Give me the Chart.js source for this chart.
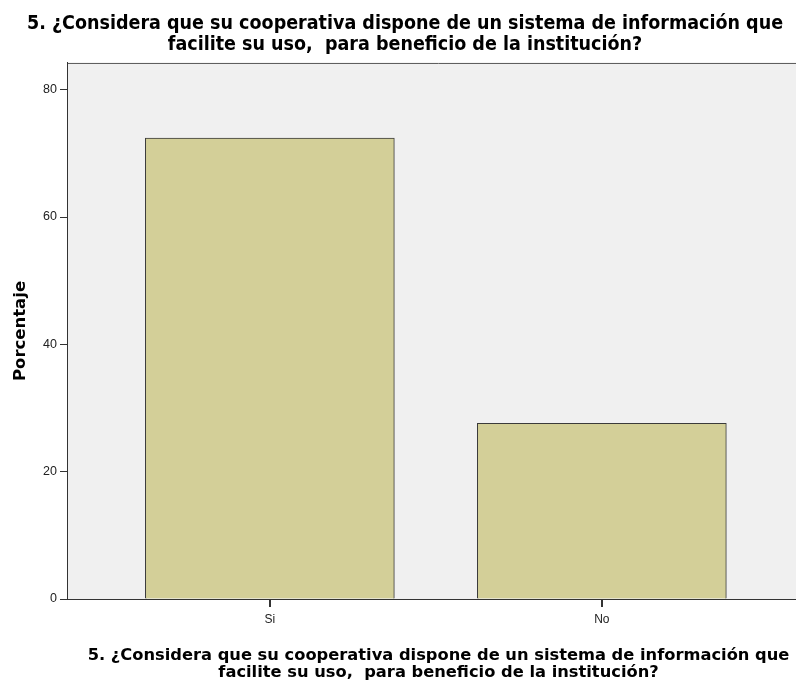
<!DOCTYPE html>
<html>
<head>
<meta charset="utf-8">
<script src="https://cdn.jsdelivr.net/npm/chart.js@4.4.1/dist/chart.umd.min.js"></script>
<style>
    html, body { margin: 0; padding: 0; background: #fff; overflow: hidden; }
    #wrap { width: 810px; height: 683px; }
</style>
</head>
<body>
<div id="wrap"><canvas id="grafico"></canvas></div>
<script>
const categorias = ["Si", "No"];
const porcentaje = [72.4, 27.6];
const ticksY = [0, 20, 40, 60, 80];
const titulo = [
    "5. ¿Considera que su cooperativa dispone de un sistema de información que",
    "facilite su uso,  para beneficio de la institución?"
];

// fondo gris del area de grafico + linea superior
const fondoArea = {
    id: "fondoArea",
    beforeDraw(chart) {
        const { ctx, chartArea: a } = chart;
        ctx.save();
        ctx.fillStyle = "#f0f0f0";
        ctx.fillRect(a.left, a.top, a.right - a.left, a.bottom - a.top);
        ctx.strokeStyle = "#555";
        ctx.lineWidth = 1;
        ctx.beginPath();
        ctx.moveTo(a.left, a.top + 0.5);
        ctx.lineTo(a.right, a.top + 0.5);
        ctx.stroke();
        ctx.restore();
    },
    // marcas de las categorias en el eje x
    afterDraw(chart) {
        const { ctx } = chart;
        const sx = chart.scales.x;
        ctx.save();
        ctx.strokeStyle = "#333";
        ctx.lineWidth = 1;
        sx.ticks.forEach((t, i) => {
            const px = Math.round(sx.getPixelForTick(i)) + 0.5;
            ctx.beginPath();
            ctx.moveTo(px, sx.top);
            ctx.lineTo(px, sx.top + 8);
            ctx.stroke();
        });
        ctx.restore();
    }
};

const ctx = document.getElementById("grafico").getContext("2d");

new Chart(ctx, {
    type: "bar",
    data: {
        datasets: [{
            data: categorias.map((c, i) => ({ x: i, y: porcentaje[i] })),
            backgroundColor: "#d3cf98",
            borderColor: "#3a3a3a",
            borderWidth: 1,
            barThickness: 249
        }]
    },
    options: {
        responsive: true,
        maintainAspectRatio: false,
        animation: false,
        layout: { padding: 0 },
        plugins: {
            legend: { display: false },
            tooltip: { enabled: false },
            title: {
                display: true,
                text: titulo,
                color: "#000",
                font: { family: "'Liberation Sans Narrow', 'DejaVu Sans Condensed', sans-serif", size: 19.5, weight: "bold", lineHeight: 1.05 },
                padding: { top: 14, bottom: 8 }
            }
        },
        scales: {
            x: {
                type: "linear",
                offset: false,
                min: -0.611,
                max: 1.627,
                afterBuildTicks: (axis) => {
                    axis.ticks = categorias.map((c, i) => ({ value: i }));
                },
                afterFit: (axis) => { axis.height = 84; },
                ticks: {
                    callback: (v) => categorias[v] ?? "",
                    color: "#222",
                    font: { family: "'Liberation Sans', Arial, sans-serif", size: 12 },
                    padding: 5
                },
                grid: { display: true, offset: false, drawOnChartArea: false, drawTicks: true, tickLength: 8, tickWidth: 1, tickColor: "#333", color: "#333" },
                border: { display: true, color: "#333", width: 1 },
                title: {
                    display: true,
                    text: titulo,
                    color: "#000",
                    font: { family: "'DejaVu Sans', sans-serif", size: 16.3, weight: "bold", lineHeight: 1.08 },
                    padding: { top: 12, bottom: 1 }
                }
            },
            y: {
                min: 0,
                max: 84.2,
                afterBuildTicks: (axis) => {
                    axis.ticks = ticksY.map(v => ({ value: v }));
                },
                afterFit: (axis) => { axis.width = 67; },
                ticks: {
                    color: "#222",
                    font: { family: "'Liberation Sans', Arial, sans-serif", size: 12.5 },
                    padding: 3
                },
                grid: { drawOnChartArea: false, drawTicks: true, tickLength: 7, color: "#333" },
                border: { display: true, color: "#333", width: 1 },
                title: {
                    display: true,
                    text: "Porcentaje",
                    color: "#000",
                    font: { family: "'DejaVu Sans', sans-serif", size: 16.5, weight: "bold" },
                    padding: { top: 11, bottom: 2 }
                }
            }
        }
    },
    plugins: [fondoArea]
});
</script>
</body>
</html>
